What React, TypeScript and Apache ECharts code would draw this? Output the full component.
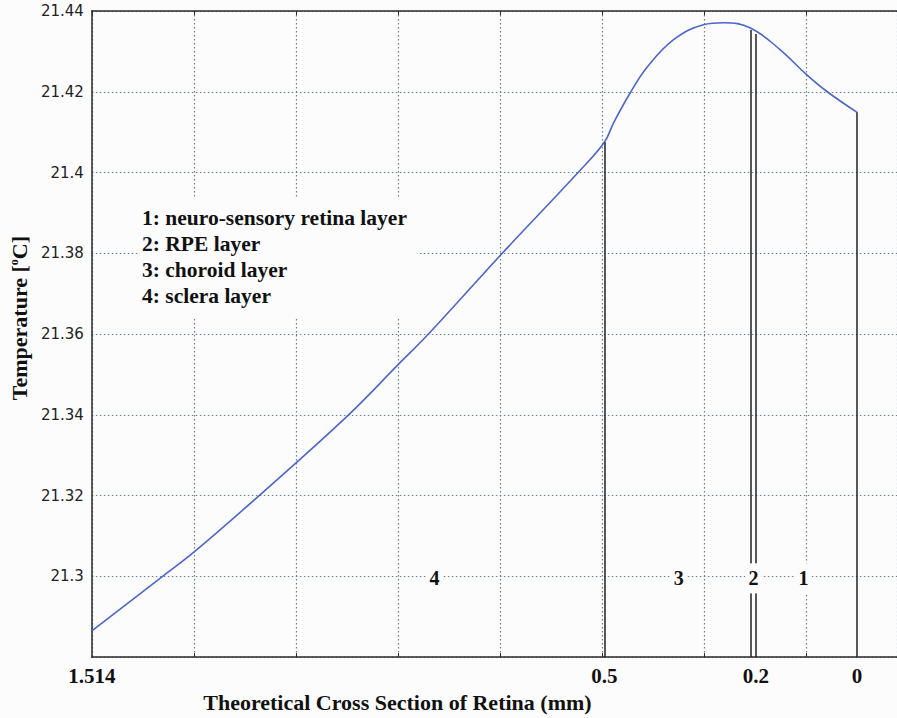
import React, { useEffect, useRef } from "react";
import * as echarts from "echarts";

// ---- data ----
const curveX = [1.514, 1.374, 1.311, 1.183, 1.006, 0.909, 0.848, 0.702, 0.552, 0.5, 0.481, 0.4475, 0.414, 0.363, 0.304, 0.264, 0.211, 0.152, 0.1005, 0.059, 0];
const curveT = [21.2865, 21.3, 21.3061, 21.32, 21.34, 21.3523, 21.36, 21.38, 21.4, 21.4075, 21.4125, 21.42, 21.4263, 21.4329, 21.4366, 21.4371, 21.4358, 21.4304, 21.4243, 21.42, 21.4149];

const boundaryX = [0.5, 0.21, 0.2, 0];
const boundaryTopT = [21.4075, 21.4353, 21.4343, 21.4149];

const layerIds = ["4", "3", "2", "1"];
const layerLabelX = [0.836, 0.353, 0.205, 0.106];
const layerLabelT = [21.2995, 21.2995, 21.2995, 21.2995];

const xTickLabels = [1.514, 0.5, 0.2, 0];
const yMin = 21.28;
const yMax = 21.44;
const yStep = 0.02;

const legendLines = [
  "1: neuro-sensory retina layer",
  "2: RPE layer",
  "3: choroid layer",
  "4: sclera layer",
];

const xTitle = "Theoretical Cross Section of Retina (mm)";
const yTitle = "Temperature [{sup|o}C]";

// ---- axis layout ----
const X_MAX = 1.514;
const X_MIN = -0.079;
const GRID_STEP = X_MAX / 7.5;
const U_MAX = (X_MAX - X_MIN) / GRID_STEP;
const gridTicksMm = [1, 2, 3, 4, 5, 6, 7].map((k) => X_MAX - k * GRID_STEP);

const BG = "#fcfcfd";
const SERIF = "'Liberation Serif', 'Times New Roman', serif";

export default function App() {
  const ref = useRef<HTMLDivElement>(null);
  useEffect(() => {
    if (!ref.current) return;
    const chart = echarts.init(ref.current, null, { renderer: "svg" });
    const gridLine = { show: true, lineStyle: { color: "#6a7f8e", type: [1.5, 2.5] as any, width: 1.2 } };
    chart.setOption({
      animation: false,
      backgroundColor: BG,
      grid: { left: 89, right: 0, top: 11, bottom: 55, containLabel: false },
      title: {
        text: legendLines.join("\n"),
        left: 140,
        top: 197,
        padding: [8, 10, 8, 2],
        backgroundColor: BG,
        textStyle: { fontFamily: SERIF, fontWeight: "bold", fontSize: 21.5, lineHeight: 26, color: "#111" },
      },
      xAxis: [
        {
          type: "value",
          inverse: true,
          min: X_MIN,
          max: X_MAX,
          position: "bottom",
          axisLine: { show: true, onZero: false, lineStyle: { color: "#2a2a2a", width: 1.5 } },
          axisTick: { show: true, inside: true, length: 4, customValues: gridTicksMm, lineStyle: { color: "#2a2a2a" } },
          splitLine: { show: false },
          axisLabel: {
            show: true,
            customValues: xTickLabels,
            formatter: (v: number) => String(v),
            fontFamily: SERIF,
            fontWeight: "bold",
            fontSize: 21,
            color: "#111",
            margin: 8,
          },
          name: xTitle,
          nameLocation: "middle",
          nameGap: 30,
          nameTextStyle: { fontFamily: SERIF, fontWeight: "bold", fontSize: 22, color: "#111", padding: [0, 194, 0, 0] },
        },
        {
          type: "value",
          min: 0,
          max: U_MAX,
          interval: 1,
          position: "top",
          axisLine: { show: true, onZero: false, lineStyle: { color: "#2a2a2a", width: 1.5 } },
          axisTick: { show: true, inside: true, length: 4, lineStyle: { color: "#2a2a2a" } },
          axisLabel: { show: false },
          splitLine: gridLine,
        },
      ],
      yAxis: {
        type: "value",
        min: yMin,
        max: yMax,
        interval: yStep,
        axisLine: { show: true, onZero: false, lineStyle: { color: "#2a2a2a", width: 1.5 } },
        axisTick: { show: false },
        splitLine: gridLine,
        axisLabel: {
          formatter: (v: number) => (v < yMin + yStep / 2 ? "" : String(+v.toFixed(2))),
          fontFamily: "'DejaVu Sans', Verdana, sans-serif",
          fontSize: 15,
          color: "#222",
          margin: 8,
        },
        name: yTitle,
        nameLocation: "middle",
        nameGap: 56,
        nameTextStyle: {
          fontFamily: SERIF,
          fontWeight: "bold",
          fontSize: 22,
          color: "#111",
          padding: [0, 0, 0, 32],
          rich: {
            sup: { fontFamily: SERIF, fontWeight: "bold", fontSize: 12, color: "#111", verticalAlign: "top", padding: [0, 0, 10, 0] },
          },
        },
      },
      series: [
        {
          type: "line",
          xAxisIndex: 0,
          data: curveX.map((x, i) => [x, curveT[i]]),
          showSymbol: false,
          smooth: 0.4,
          lineStyle: { color: "#4a67c9", width: 1.6 },
          silent: true,
          z: 3,
          markLine: {
            silent: true,
            symbol: ["none", "none"],
            label: { show: false },
            lineStyle: { color: "#222", width: 1.5, type: "solid" },
            emphasis: { disabled: true },
            data: boundaryX.map((x, i) => [
              { coord: [x, yMin] },
              { coord: [x, boundaryTopT[i]] },
            ]),
          },
        },
        {
          type: "custom",
          xAxisIndex: 0,
          silent: true,
          z: 10,
          data: layerIds.map((id, i) => [layerLabelX[i], layerLabelT[i]]),
          renderItem: (params: any, api: any) => {
            const p = api.coord([api.value(0), api.value(1)]);
            return {
              type: "text",
              x: p[0],
              y: p[1],
              z2: 100,
              style: {
                text: layerIds[params.dataIndex],
                fontFamily: SERIF,
                fontWeight: "bold",
                fontSize: 20,
                fill: "#111",
                align: "center",
                verticalAlign: "middle",
                backgroundColor: BG,
                padding: [5, 3],
              },
            };
          },
        },
      ],
    });
    return () => chart.dispose();
  }, []);
  return (
    <div
      ref={ref}
      style={{ position: "fixed", left: 0, top: 0, width: 897, height: 718 }}
    />
  );
}
